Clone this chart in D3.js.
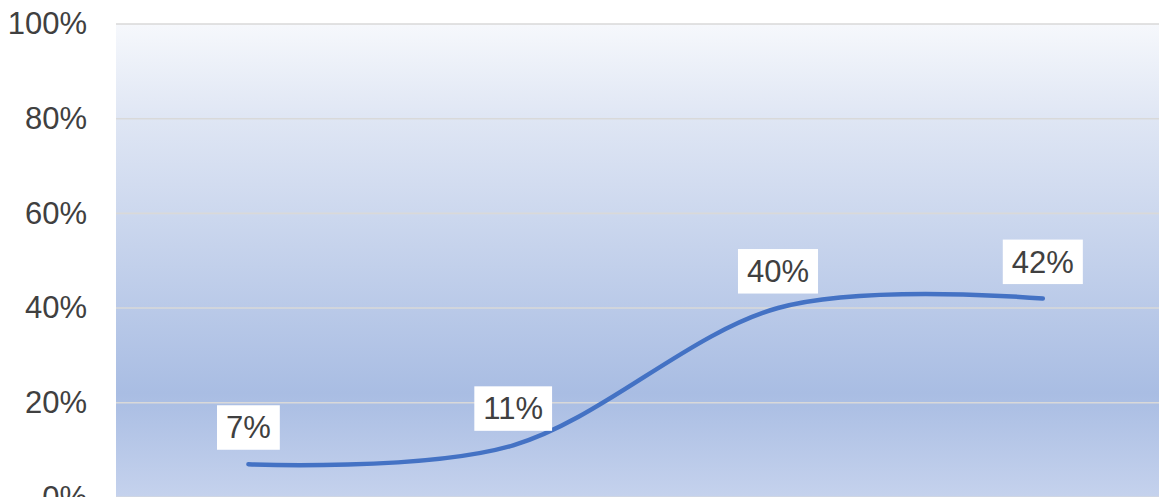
<!DOCTYPE html>
<html>
<head>
<meta charset="utf-8">
<script src="https://cdn.jsdelivr.net/npm/d3@7/dist/d3.min.js"></script>
<style>
  html, body { margin: 0; padding: 0; background: #ffffff; overflow: hidden; }
  svg { display: block; }
</style>
</head>
<body>
<svg id="chart" width="1159" height="497"></svg>
<script>
const categories = ["A", "B", "C", "D"];
const values = [0.07, 0.11, 0.40, 0.42];
const labels = ["7%", "11%", "40%", "42%"];
const yTicks = [0, 0.2, 0.4, 0.6, 0.8, 1.0];
const yTickLabels = ["0%", "20%", "40%", "60%", "80%", "100%"];

const svg = d3.select("#chart");
const FONT = "'Liberation Sans', Arial, sans-serif";
const plotLeft = 116, plotTop = 24, plotBottom = 497.4;
const band = 264.8;
const plotRight = plotLeft + band * categories.length;

const x = d3.scaleBand().domain(categories).range([plotLeft, plotRight]);
const y = d3.scaleLinear().domain([0, 1]).range([plotBottom, plotTop]);

const defs = svg.append("defs");
const grad = defs.append("linearGradient").attr("id", "bg")
  .attr("x1", 0).attr("y1", 0).attr("x2", 0).attr("y2", 1);
grad.append("stop").attr("offset", "0%").attr("stop-color", "#f6f8fc");
grad.append("stop").attr("offset", "20%").attr("stop-color", "#dfe6f4");
grad.append("stop").attr("offset", "78%").attr("stop-color", "#a9bde3");
grad.append("stop").attr("offset", "100%").attr("stop-color", "#c5d2ed");

svg.append("rect")
  .attr("x", plotLeft).attr("y", plotTop)
  .attr("width", plotRight - plotLeft).attr("height", plotBottom - plotTop)
  .attr("fill", "url(#bg)");

// gridlines
svg.append("g").selectAll("line").data(yTicks).join("line")
  .attr("x1", plotLeft).attr("x2", plotRight)
  .attr("y1", d => y(d)).attr("y2", d => y(d))
  .attr("stroke", "#d9d9d9").attr("stroke-width", 1.6);

// y axis labels
const yAxis = d3.axisLeft(y).tickValues(yTicks)
  .tickFormat((d, i) => yTickLabels[i]).tickSize(0).tickPadding(29);
const gy = svg.append("g").attr("transform", `translate(${plotLeft},0)`).call(yAxis);
gy.select(".domain").remove();
gy.selectAll("text").attr("font-family", FONT).attr("font-size", 31).attr("fill", "#404040");

// line
const line = d3.line()
  .x((d, i) => x(categories[i]) + x.bandwidth() / 2)
  .y(d => y(d))
  .curve(d3.curveCardinal.tension(0));
svg.append("path").datum(values)
  .attr("d", line)
  .attr("fill", "none")
  .attr("stroke", "#4472c4")
  .attr("stroke-width", 4.5)
  .attr("stroke-linecap", "round");

// data labels
const lg = svg.append("g").selectAll("g").data(values).join("g");
lg.each(function(d, i) {
  const g = d3.select(this);
  const cx = x(categories[i]) + x.bandwidth() / 2;
  const py = y(d);
  const t = g.append("text")
    .attr("x", cx).attr("text-anchor", "middle")
    .attr("font-family", FONT).attr("font-size", 31).attr("fill", "#404040")
    .text(labels[i]);
  const w = t.node().getComputedTextLength() + 18;
  const h = 44.5;
  const bottom = py - 14.5;
  g.insert("rect", "text")
    .attr("x", cx - w / 2).attr("y", bottom - h)
    .attr("width", w).attr("height", h)
    .attr("fill", "#ffffff");
  t.attr("y", bottom - h / 2).attr("dy", "0.35em");
});
</script>
</body>
</html>
